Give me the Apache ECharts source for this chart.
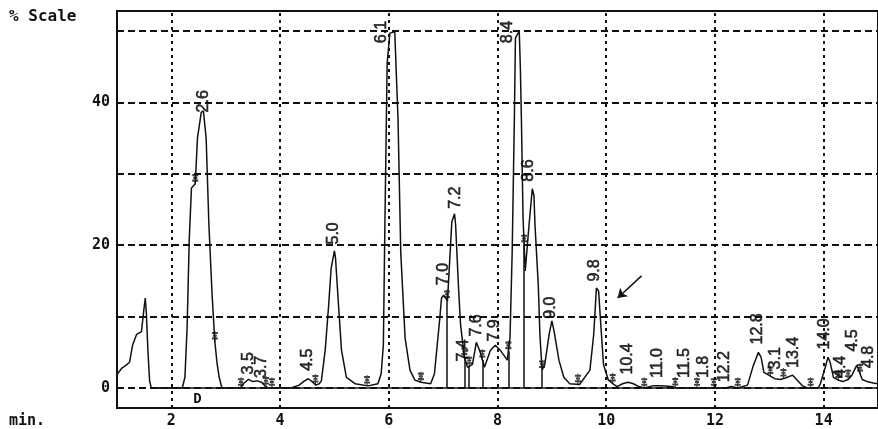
<!DOCTYPE html>
<html><head><meta charset="utf-8">
<script src="https://cdn.jsdelivr.net/npm/echarts@6/dist/echarts.min.js"></script>
<style>html,body{margin:0;padding:0;background:#fff}#c{width:878px;height:429px}</style>
</head><body><div id="c"></div>
<script>
// ---- data ----
const xTicks = [2, 4, 6, 8, 10, 12, 14];
const yTicks = [0, 20, 40];
const gridYValues = [0, 10, 20, 30, 40, 50];
const gridXValues = [2, 4, 6, 8, 10, 12, 14];

// chromatogram trace: [minutes, % scale]
const signal = [
  [1.00,1.9],[1.09,2.8],[1.17,3.2],[1.23,3.6],[1.29,6.1],[1.36,7.5],[1.45,7.9],[1.49,10.7],[1.52,12.6],[1.54,10.5],[1.57,5.0],[1.60,1.0],[1.63,0],
  [2.20,0],[2.25,1.5],[2.29,8.5],[2.33,21],[2.37,28],[2.44,28.6],[2.48,35],[2.55,38.6],[2.59,38.8],[2.64,35],[2.69,23],[2.75,13],[2.80,6.5],[2.84,3.5],[2.88,1.5],[2.93,0],
  [3.28,0],[3.32,0.6],[3.42,1.2],[3.50,0.9],[3.58,1.0],[3.66,0.8],[3.72,0.3],[3.78,0],
  [4.20,0],[4.35,0.4],[4.45,1.0],[4.52,1.3],[4.60,0.8],[4.66,0.4],[4.72,0.6],
  [4.76,1.0],[4.83,5.3],[4.89,11.2],[4.94,16.8],[5.00,19.2],[5.02,18.2],[5.07,12.2],[5.13,5.3],[5.22,1.5],[5.38,0.6],[5.62,0.3],
  [5.80,0.6],[5.86,2.0],[5.90,6.0],[5.93,23.8],[5.97,45.5],[6.02,49.7],[6.11,49.9],[6.17,37.6],[6.22,19],[6.30,7.0],[6.39,2.5],[6.48,1.1],[6.59,0.8],[6.77,0.6],
  [6.84,2.0],[6.94,9.9],[6.97,12.6],[7.01,13],[7.08,12.2],[7.16,23.3],[7.21,24.4],[7.23,22.8],[7.28,14.5],[7.32,8.9],[7.39,4.3],[7.45,2.9],[7.54,3.3],[7.61,6.4],[7.67,5.3],[7.76,2.9],
  [7.87,5.3],[7.96,6.0],[8.05,5.3],[8.18,3.9],[8.23,7.0],[8.27,19],[8.31,37.6],[8.33,49],[8.40,50],[8.42,45],[8.44,37.6],[8.47,23.8],[8.51,16.4],[8.58,22.8],[8.64,27.9],[8.67,27],[8.69,22.8],[8.75,14.5],[8.78,7.5],[8.82,2.5],
  [8.87,3.3],[8.95,7.5],[9.00,9.4],[9.04,8.0],[9.13,3.9],[9.22,1.5],[9.33,0.6],[9.51,0.5],[9.70,2.5],[9.77,7.5],[9.82,14],[9.86,13.6],[9.90,8.9],[9.95,3.3],[10.04,1.1],[10.14,0.5],
  [10.20,0.2],[10.30,0.6],[10.40,0.8],[10.50,0.6],[10.60,0.2],[10.70,0],[10.85,0.3],[11.00,0.3],[11.20,0.2],[11.30,0],[12.20,0],[12.30,0.2],[12.42,0],
  [12.60,0.4],[12.70,3.0],[12.80,5.0],[12.85,4.3],[12.90,2.2],[12.99,1.8],[13.10,1.3],[13.20,1.2],[13.30,1.4],[13.43,1.8],[13.55,0.8],[13.61,0.3],[13.70,0],
  [13.90,0],[13.94,0.6],[14.03,2.9],[14.08,4.3],[14.12,3.6],[14.18,1.5],[14.27,1.1],[14.35,0.9],[14.45,1.2],[14.52,1.8],[14.61,3.2],[14.66,2.2],[14.71,1.2],[14.80,0.9],[14.91,0.7],[15.00,0.6]
];

// peak labels (retention time text, label x in minutes, label foot level in % scale)
const peakNames  = ['2.6','3.5','3.7','4.5','5.0','6.1','7.0','7.2','7.4','7.6','7.9','8.4','8.6','9.0','9.8','10.4','11.0','11.5','1.8','12.2','12.8','3.1','13.4','14.0','4.4','4.5','4.8'];
const peakTimes  = [2.585,3.43,3.66,4.50,4.98,5.86,7.01,7.23,7.37,7.61,7.94,8.18,8.58,8.97,9.79,10.39,10.94,11.45,11.80,12.18,12.79,13.12,13.44,14.01,14.32,14.54,14.82];
const peakLevels = [38.6,1.9,1.4,2.4,20.1,48.3,14.4,25.1,3.7,7.2,6.5,48.3,28.9,9.7,14.9,1.9,1.4,1.4,1.4,0.8,6.1,2.6,2.8,5.4,1.4,5.1,2.8];

// integration event marks and drop lines (minutes)
const cutTimes  = [2.44,2.80,3.28,3.74,3.85,4.65,5.60,6.59,7.07,7.39,7.48,7.72,8.20,8.49,8.82,9.48,10.12,10.70,11.27,11.67,11.98,12.42,13.02,13.26,13.76,14.27,14.45,14.67];
const dropTimes = [7.07,7.39,7.48,7.72,8.20,8.49,8.82];
const baselineRange = [1.63, 15];
const arrowFrom = [10.65, 15.7];
const arrowTo = [10.21, 12.6];
const markerLetter = 'D';

// ---- helpers ----
function level(t){
  for (let i=1;i<signal.length;i++){
    const a=signal[i-1], b=signal[i];
    if (t<=b[0]) { const f=(t-a[0])/(b[0]-a[0]); return a[1]+f*(b[1]-a[1]); }
  }
  return signal[signal.length-1][1];
}
const INK = '#111';
const mono = '"DejaVu Sans Mono", monospace';

const gridLines = [];
gridYValues.forEach(v=>gridLines.push({yAxis:v, lineStyle:{type:[7,4], width:2, color:INK}}));
gridXValues.forEach(v=>gridLines.push({xAxis:v, lineStyle:{type:[3,4], width:2, color:INK}}));

const drops = dropTimes.map(t=>[{coord:[t,0]},{coord:[t,level(t)]}]);

const chart = echarts.init(document.getElementById('c'), null, {renderer:'canvas'});
chart.setOption({
  animation:false,
  backgroundColor:'#fff',
  grid:{left:117, top:11, bottom:18, right:-5, show:true, borderColor:INK, borderWidth:2, backgroundColor:'transparent'},
  xAxis:{type:'value', min:1, max:15,
    axisLine:{show:false}, axisTick:{show:false}, splitLine:{show:false},
    axisLabel:{customValues:xTicks, color:INK, fontFamily:mono, fontWeight:'bold', fontSize:15, margin:6}},
  yAxis:{type:'value', min:-2.8, max:52.8,
    axisLine:{show:false}, axisTick:{show:false}, splitLine:{show:false},
    axisLabel:{customValues:yTicks, color:INK, fontFamily:mono, fontWeight:'bold', fontSize:15, margin:7}},
  graphic:[
    {type:'text', left:9, top:9, style:{text:'% Scale', font:'bold 16px "DejaVu Sans Mono", monospace', fill:INK}},
    {type:'text', left:9, top:414, style:{text:'min.', font:'bold 15px "DejaVu Sans Mono", monospace', fill:INK}}
  ],
  series:[
    {type:'line', data:[[baselineRange[0],0],[baselineRange[1],0]], symbol:'none', silent:true,
      lineStyle:{color:INK, width:1.5}, z:2,
      markLine:{silent:true, symbol:'none', label:{show:false}, animation:false, data:gridLines}},
    {type:'line', data:signal, symbol:'none', silent:true, lineStyle:{color:INK, width:1.5}, z:3,
      markLine:{silent:true, symbol:'none', label:{show:false}, lineStyle:{type:'solid', color:INK, width:1.5}, data:drops}},
    {type:'scatter', data:cutTimes.map(t=>[t,level(t)]), silent:true, z:4,
      symbol:'path://M4,0L4,12M1,2L7,2M2,5L6,5M1,8L7,8', symbolSize:[6,11], symbolOffset:[0,-5],
      itemStyle:{color:'none', borderColor:INK, borderWidth:1.5}},
    {type:'scatter', data:peakTimes.map((t,i)=>({value:[t,peakLevels[i]], name:peakNames[i]})), silent:true, z:5,
      symbolSize:0,
      label:{show:true, position:'inside', rotate:90, align:'left', verticalAlign:'middle',
        formatter:p=>p.name, color:'#000', textBorderWidth:0.6, textBorderColor:'#000',
        fontSize:16, fontFamily:'"Liberation Sans Narrow", "Arial Narrow", sans-serif'},
      markLine:{silent:true, symbol:['none','arrow'], symbolSize:9, label:{show:false},
        lineStyle:{type:'solid', color:INK, width:1.5},
        data:[[{coord:arrowFrom},{coord:arrowTo}]]},
      markPoint:{silent:true, symbol:'circle', symbolSize:0,
        label:{show:true, formatter:markerLetter, color:INK, fontFamily:mono, fontWeight:'bold', fontSize:14, position:'inside', textBorderWidth:0},
        data:[{coord:[2.48,-1.6]}]}}
  ]
});
</script></body></html>
